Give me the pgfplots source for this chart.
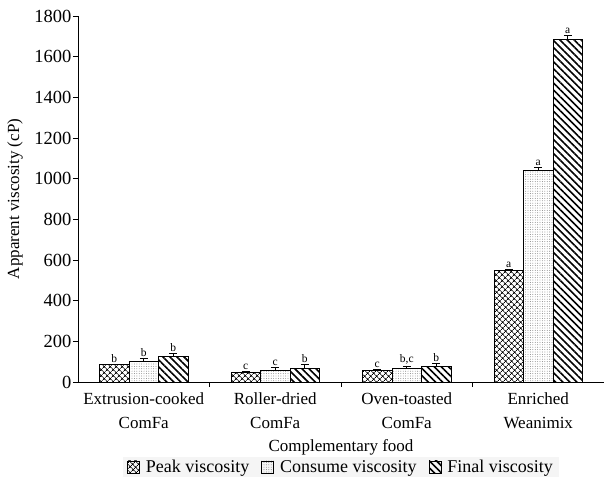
\documentclass[border=0pt]{standalone}
\usepackage{fontspec}
\setmainfont{Liberation Serif}
\usepackage{pgfplots}
\pgfplotsset{compat=1.18}
\usepackage{pgfplotstable}
\usetikzlibrary{patterns.meta}

\pgfplotstableread{
x y err lab
0 84 5 b
1 49 5 c
2 56 6 c
3 548 7 a
}\peak
\pgfplotstableread{
x y err lab
0 103 12 b
1 59 13 c
2 65 14 {b,c}
3 1039 16 a
}\consume
\pgfplotstableread{
x y err lab
0 123 19 b
1 65 21 b
2 74 18 b
3 1683 22 a
}\final

\pgfplotsset{
  myerr/.style={error bars/.cd, y dir=plus, y explicit,
    error bar style={line width=0.6pt, black},
    error mark options={rotate=90, mark size=4pt, line width=0.6pt, black}},
  mylab/.style={sharp plot, draw=none, mark=none, forget plot,
    nodes near coords, point meta=explicit symbolic,
    every node near coord/.style={font=\fontsize{11.5}{11.5}\selectfont, inner sep=1.5pt, anchor=south, xshift=#1}},
}

\begin{document}
\begin{tikzpicture}
\useasboundingbox (-78pt,-102pt) rectangle (526pt,382pt);
\begin{axis}[
  at={(0,0)}, anchor=south west,
  scale only axis, width=526pt, height=366pt,
  clip=false,
  xmin=-0.5, xmax=3.5, ymin=0, ymax=1800,
  axis x line=bottom, axis y line=left,
  axis line style={-, line width=0.8pt},
  ybar=0pt, bar width=29.5pt,
  xtick={0,1,2,3},
  xticklabels={{Extrusion-cooked\\ComFa},{Roller-dried\\ComFa},{Oven-toasted\\ComFa},{Enriched\\Weanimix}},
  xtick style={draw=none},
  xticklabel style={align=center, font=\fontsize{17}{24}\selectfont, yshift=-2pt},
  ytick={0,200,...,1800},
  yticklabel style={font=\fontsize{18.5}{20}\selectfont, xshift=2pt},
  tick align=outside, major tick length=5pt,
  tick style={black, line width=0.8pt},
  /pgf/number format/assume math mode=true,
  /pgf/number format/set thousands separator={},
  legend columns=3,
  legend image code/.code={\draw[#1, line width=0.8pt] (0pt,-6pt) rectangle (12pt,6pt);},
  legend style={at={(0.5,-0.232)}, anchor=center, fill=gray!8, draw=none,
    font=\fontsize{18}{20}\selectfont, inner xsep=4pt, inner ysep=1pt,
    /tikz/every odd column/.append style={column sep=4pt},
    /tikz/every even column/.append style={column sep=10pt}},
]
\addplot[draw=black, line width=1pt, bar shift=-29.5pt,
  pattern={Hatch[angle=45, distance=4pt, line width=0.7pt]}, myerr]
  table[x=x, y=y, y error=err] {\peak};
\addlegendentry{Peak viscosity}
\addplot[draw=black, line width=1pt, bar shift=0pt,
  pattern={Dots[distance=2.4pt, radius=0.45pt]}, pattern color=black!55, myerr]
  table[x=x, y=y, y error=err] {\consume};
\addlegendentry{Consume viscosity}
\addplot[draw=black, line width=1pt, bar shift=29.5pt,
  pattern={Lines[angle=-45, distance=5pt, line width=1.6pt]}, myerr]
  table[x=x, y=y, y error=err] {\final};
\addlegendentry{Final viscosity\hspace{18pt}}

\addplot[mylab=-29.5pt] table[x=x, y expr=\thisrow{y}+\thisrow{err}, meta=lab] {\peak};
\addplot[mylab=0pt] table[x=x, y expr=\thisrow{y}+\thisrow{err}, meta=lab] {\consume};
\addplot[mylab=29.5pt] table[x=x, y expr=\thisrow{y}+\thisrow{err}, meta=lab] {\final};

\draw[line width=0.8pt] (axis cs:0.5,0) -- ++(0pt,-5pt);
\draw[line width=0.8pt] (axis cs:1.5,0) -- ++(0pt,-5pt);
\draw[line width=0.8pt] (axis cs:2.5,0) -- ++(0pt,-5pt);
\end{axis}
\node[font=\fontsize{17}{20}\selectfont] at (263pt,-65pt) {Complementary food};
\node[font=\fontsize{17}{20}\selectfont, rotate=90] at (-63pt,183pt) {Apparent viscosity (cP)};
\end{tikzpicture}
\end{document}
